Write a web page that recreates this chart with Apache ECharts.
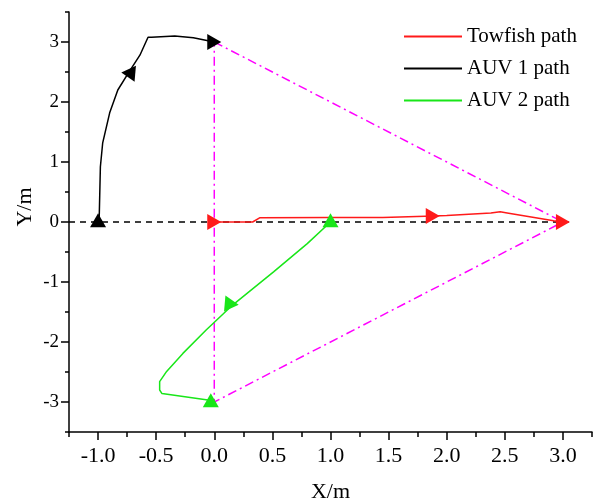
<!DOCTYPE html>
<html>
<head>
<meta charset="utf-8">
<script src="https://cdn.jsdelivr.net/npm/echarts@6/dist/echarts.min.js"></script>
<style>
  html, body { margin: 0; padding: 0; background: #fff; }
  #chart { width: 596px; height: 503px; }
</style>
</head>
<body>
<div id="chart"></div>
<script>
// tick values
const xMajorTicks = [-1, -0.5, 0, 0.5, 1, 1.5, 2, 2.5, 3];
const yMajorTicks = [-3, -2, -1, 0, 1, 2, 3];

const seriesNames = ['Towfish path', 'AUV 1 path', 'AUV 2 path'];

// paths, [x, y] in metres
const towfishPath = [[0, 0], [0.33, 0], [0.39, 0.07], [1.0, 0.075], [1.45, 0.075], [1.89, 0.1],
  [2.0, 0.11], [2.38, 0.15], [2.46, 0.17], [2.52, 0.15], [2.92, 0.02], [3.0, 0.0]];
const auv1Path = [[-1.0, 0], [-0.99, 0.07], [-0.98, 0.92], [-0.96, 1.32], [-0.9, 1.82], [-0.83, 2.2],
  [-0.74, 2.48], [-0.64, 2.78], [-0.57, 3.08], [-0.54, 3.08], [-0.34, 3.1], [-0.18, 3.07], [0, 3.0]];
const auv2Path = [[1.0, 0], [0.8, -0.36], [0.51, -0.83], [0.16, -1.38], [-0.07, -1.8], [-0.27, -2.19],
  [-0.41, -2.49], [-0.47, -2.66], [-0.47, -2.8], [-0.45, -2.86], [-0.04, -2.97], [0, -3.0]];

// arrow markers along each path
const towfishMarks = [[0, 0], [1.88, 0.1], [3.0, 0]];
const auv1Marks = [[-1.0, 0.03], [-0.74, 2.48], [0, 3.0]];
const auv2Marks = [[1.0, 0.03], [0.15, -1.37], [-0.03, -2.97]];

// reference lines
const baseLine = [[-1.25, 0], [3.05, 0]];
const formation = [[0, 3], [3, 0], [0, -3], [0, 3]];

const serif = '"Liberation Serif", "Times New Roman", serif';
const colors = { towfish: '#ff1a1a', auv1: '#000000', auv2: '#19e619', form: '#ff00ff' };

function marks(points, rotations, color) {
  return {
    type: 'scatter',
    symbol: 'triangle',
    symbolSize: [16, 14],
    itemStyle: { color: color, opacity: 1 },
    z: 5,
    silent: true,
    data: points.map((p, i) => ({ value: p, symbolRotate: rotations[i] }))
  };
}

function pathLine(name, data, color) {
  return {
    name: name,
    type: 'line',
    data: data,
    symbol: 'none',
    lineStyle: { color: color, width: 1.5 },
    itemStyle: { color: color },
    z: 3
  };
}

const isMajor = (v, list) => list.some(t => Math.abs(t - v) < 1e-6);
const tickStyle = { color: '#000', width: 1.5 };

const chart = echarts.init(document.getElementById('chart'));
chart.setOption({
  animation: false,
  backgroundColor: '#fff',
  grid: { left: 69, right: 4, top: 12, bottom: 71, containLabel: false, outerBoundsMode: 'none' },
  legend: {
    data: seriesNames,
    orient: 'vertical',
    left: 399,
    top: 21,
    icon: 'rect',
    itemWidth: 58,
    itemHeight: 2,
    itemGap: 11,
    textStyle: { fontFamily: serif, fontSize: 21, color: '#000', lineHeight: 20 }
  },
  xAxis: [{
    // minor ticks every 0.25, labels only on the half units
    type: 'value',
    min: -1.25, max: 3.25, interval: 0.25,
    position: 'bottom',
    name: 'X/m',
    nameLocation: 'middle',
    nameGap: 49,
    nameTextStyle: { fontFamily: serif, fontSize: 22, color: '#000' },
    axisLine: { show: true, onZero: false, lineStyle: { color: '#000', width: 1.5 } },
    axisTick: { show: true, length: 5, lineStyle: tickStyle },
    axisLabel: { fontFamily: serif, fontSize: 22, color: '#000', margin: 13,
      showMinLabel: true, showMaxLabel: true,
      formatter: v => isMajor(v, xMajorTicks) ? v.toFixed(1) : '' },
    splitLine: { show: false }
  }, {
    // longer major ticks
    type: 'value',
    min: -1.25, max: 3.25,
    position: 'bottom',
    axisLine: { show: false, onZero: false },
    axisTick: { show: true, customValues: xMajorTicks, length: 8, lineStyle: tickStyle },
    axisLabel: { show: false, customValues: xMajorTicks },
    splitLine: { show: false }
  }],
  yAxis: [{
    type: 'value',
    min: -3.5, max: 3.5, interval: 0.5,
    position: 'left',
    name: 'Y/m',
    nameLocation: 'middle',
    nameGap: 33,
    nameMoveOverlap: false,
    nameTextStyle: { fontFamily: serif, fontSize: 22, color: '#000', padding: [0, 0, 0, 30] },
    axisLine: { show: true, onZero: false, lineStyle: { color: '#000', width: 1.5 } },
    axisTick: { show: true, length: 4, lineStyle: tickStyle },
    axisLabel: { fontFamily: serif, fontSize: 19, color: '#000', margin: 10,
      formatter: v => isMajor(v, yMajorTicks) ? String(v) : '' },
    splitLine: { show: false }
  }, {
    type: 'value',
    min: -3.5, max: 3.5,
    position: 'left',
    axisLine: { show: false, onZero: false },
    axisTick: { show: true, customValues: yMajorTicks, length: 8, lineStyle: tickStyle },
    axisLabel: { show: false, customValues: yMajorTicks },
    splitLine: { show: false }
  }],
  series: [
    {
      type: 'line', data: baseLine, symbol: 'none', silent: true, z: 1,
      lineStyle: { color: '#000', width: 1.3, type: [6, 5] }
    },
    {
      type: 'line', data: formation, symbol: 'none', silent: true, z: 2,
      lineStyle: { color: colors.form, width: 1.5, type: [9, 4, 2, 4] }
    },
    pathLine(seriesNames[0], towfishPath, colors.towfish),
    pathLine(seriesNames[1], auv1Path, colors.auv1),
    pathLine(seriesNames[2], auv2Path, colors.auv2),
    marks(towfishMarks, [-90, -90, -90], colors.towfish),
    marks(auv1Marks, [0, 85, -90], colors.auv1),
    marks(auv2Marks, [0, -95, 0], colors.auv2)
  ]
});
</script>
</body>
</html>
